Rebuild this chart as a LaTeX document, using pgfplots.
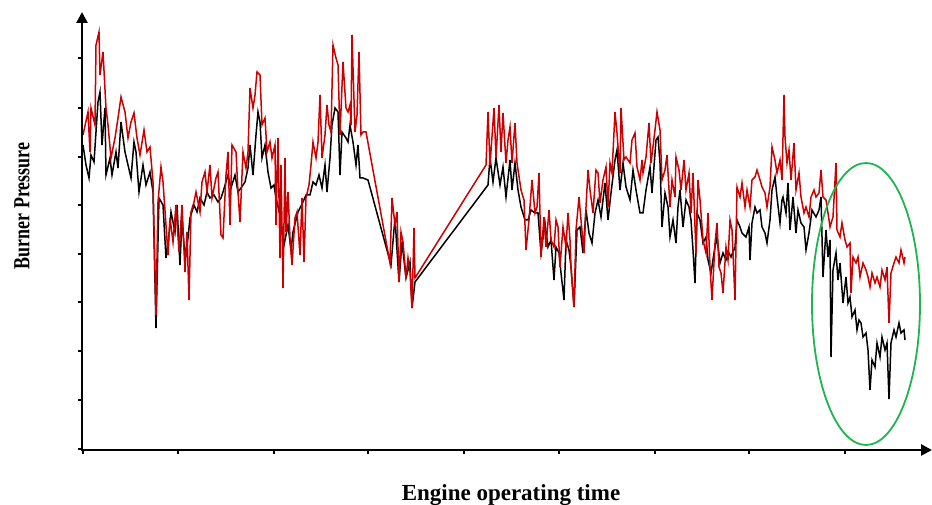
\documentclass[border=0pt]{standalone}
\usepackage{pgfplots}
\pgfplotsset{compat=1.18}
\usepackage{fontspec}
\setmainfont{Liberation Serif}
\usetikzlibrary{arrows.meta}
\definecolor{redline}{RGB}{204,0,0}
\definecolor{ellgreen}{RGB}{30,180,80}
\begin{document}
\begin{tikzpicture}
\begin{axis}[
  scale only axis,
  width=849pt, height=437pt,
  xmin=83, xmax=932, ymin=0, ymax=437,
  axis lines*=left,
  axis line style={draw=none},
  xtick={83,178,274,368,464,559,655,749,845},
  ytick={0,49,98,147,195,244,292,341,391},
  xticklabels={}, yticklabels={},
  tick align=outside,
  major tick length=5pt,
  tick style={black, line width=1.8pt},
  clip=false,
]
\addplot[black, line width=1.5pt] coordinates {
(83,304)(86,284)(89,271)(91,294)(94,287)(98,347)(100,357)(102,304)(105,341)(106,274)
(110,291)(112,274)(116,297)(118,281)(121,327)(125,297)(128,284)(131,271)(134,307)(136,297)
(139,257)(143,284)(146,264)(150,277)(153,257)(156,121)(159,251)(163,244)(166,191)(169,214)
(171,237)(175,217)(177,244)(180,184)(182,231)(185,191)(188,211)(190,231)(194,244)(197,237)
(200,251)(204,244)(207,257)(210,251)(214,254)(218,247)(221,251)(223,257)(228,274)(231,261)
(235,274)(238,257)(241,261)(245,267)(248,281)(250,304)(253,274)(256,314)(258,337)(260,327)
(262,291)(265,304)(268,277)(271,261)(274,264)(276,251)(280,234)(284,204)(288,224)(291,199)
(293,217)(298,237)(303,247)(306,254)(310,254)(313,267)(316,264)(319,274)(322,261)(325,284)
(327,257)(330,291)(332,324)(335,341)(338,337)(340,274)(342,317)(346,311)(348,307)(350,324)
(353,307)(356,284)(358,304)(360,271)(363,271)(368,269)(391,184)(395,231)(399,167)(402,207)
(406,171)(410,187)(412,141)(415,167)(488,264)(490,291)(493,267)(496,291)(500,264)(503,282)
(506,252)(510,289)(512,259)(515,286)(518,259)(521,242)(525,229)(528,229)(531,239)(535,236)
(538,236)(541,196)(545,226)(548,202)(551,209)(554,169)(556,202)(559,196)(561,176)(564,149)
(566,209)(569,199)(571,182)(574,142)(577,219)(580,222)(583,196)(586,239)(589,216)(592,206)
(595,236)(598,249)(601,232)(605,266)(608,229)(611,256)(615,289)(617,299)(620,259)(623,286)
(626,262)(630,249)(633,279)(636,259)(640,236)(643,236)(646,259)(650,282)(652,256)(656,309)
(658,312)(660,286)(662,222)(665,256)(668,242)(670,212)(673,229)(676,206)(678,242)(680,259)
(683,222)(686,249)(689,242)(691,229)(693,199)(695,166)(697,236)(700,229)(703,206)(706,212)
(708,189)(711,176)(714,196)(717,212)(720,186)(723,196)(726,189)(729,196)(731,192)(735,202)
(737,229)(740,222)(742,216)(746,212)(749,222)(750,189)(752,226)(755,242)(757,236)(760,239)
(762,222)(765,216)(767,206)(770,229)(772,259)(775,272)(777,252)(780,226)(782,249)(783,252)
(786,236)(788,266)(790,219)(793,252)(796,216)(798,239)(801,226)(804,222)(806,199)(809,216)
(812,239)(816,232)(819,239)(821,252)(823,172)(826,219)(828,192)(830,209)(831,92)(833,179)
(836,196)(838,169)(840,186)(843,146)(846,172)(848,146)(850,152)(852,132)(855,139)(857,119)
(859,129)(861,126)(863,112)(866,116)(868,99)(870,59)(872,89)(875,82)(877,106)(880,92)
(882,112)(885,99)(887,106)(889,50)(891,106)(894,119)(896,112)(899,126)(901,116)(904,119)
(905,109)
};
\addplot[redline, line width=1.5pt] coordinates {
(83,314)(88,337)(90,297)(91,341)(95,324)(96,404)(99,417)(100,374)(103,397)(106,341)
(108,324)(111,291)(115,311)(118,331)(121,352)(125,337)(128,311)(131,327)(134,336)(137,311)
(140,294)(144,319)(147,297)(150,302)(153,267)(156,134)(158,247)(161,282)(163,267)(166,224)
(168,194)(170,231)(173,207)(176,244)(179,197)(182,244)(185,177)(187,217)(189,149)(191,237)
(194,247)(196,257)(200,237)(202,267)(205,277)(207,257)(210,284)(212,251)(216,271)(218,277)
(221,214)(223,211)(226,274)(228,297)(230,224)(232,304)(236,297)(238,257)(240,227)(243,297)
(246,281)(248,297)(250,361)(253,341)(255,354)(257,377)(260,374)(262,324)(265,331)(267,297)
(270,307)(272,291)(275,304)(276,224)(278,311)(280,191)(281,284)(283,161)(285,291)(286,217)
(288,257)(290,211)(292,184)(295,231)(297,237)(300,194)(302,251)(304,187)(306,251)(309,264)
(311,284)(313,307)(316,291)(318,307)(320,354)(322,291)(325,314)(327,344)(329,324)(331,317)
(333,404)(336,391)(338,384)(340,314)(343,387)(346,341)(348,337)(350,344)(351,324)(352,414)
(355,317)(357,334)(359,397)(361,314)(363,317)(366,317)(390,186)(392,251)(395,224)(397,237)
(399,167)(401,217)(403,207)(406,171)(408,191)(410,177)(412,141)(414,221)(415,171)(486,284)
(488,337)(490,284)(494,341)(496,291)(499,344)(501,297)(503,336)(506,286)(508,309)(510,322)
(512,286)(515,326)(517,286)(521,259)(524,249)(526,199)(529,229)(532,269)(535,236)(537,242)
(539,276)(541,192)(544,232)(546,202)(549,239)(551,209)(554,202)(556,229)(558,222)(560,182)
(563,222)(566,202)(568,236)(570,209)(571,182)(574,142)(576,219)(579,252)(581,229)(584,196)
(586,242)(588,279)(590,259)(593,236)(596,279)(598,276)(600,246)(603,269)(606,282)(608,242)
(610,286)(612,276)(615,337)(617,316)(620,276)(621,341)(624,289)(626,292)(630,286)(632,309)
(635,316)(637,282)(640,269)(642,289)(643,276)(646,292)(649,326)(651,286)(655,319)(657,337)
(660,319)(662,269)(665,279)(667,294)(670,242)(672,269)(675,252)(676,292)(679,279)(681,259)
(684,289)(686,259)(689,276)(691,236)(693,276)(696,196)(698,269)(700,249)(703,209)(706,196)
(708,236)(710,182)(712,149)(715,206)(717,226)(719,182)(721,176)(723,156)(726,202)(728,189)
(730,229)(732,219)(735,149)(737,262)(740,252)(742,266)(745,242)(747,259)(750,242)(752,269)
(755,272)(757,279)(760,269)(762,262)(765,256)(767,242)(770,262)(772,302)(775,289)(777,276)
(780,289)(782,269)(784,354)(785,312)(787,286)(789,299)(791,269)(794,306)(796,259)(799,276)
(801,252)(804,236)(806,242)(809,232)(811,252)(814,259)(816,252)(819,256)(821,279)(823,252)
(826,249)(828,236)(830,222)(833,232)(836,286)(837,219)(840,212)(842,226)(845,209)(847,202)
(850,206)(851,156)(853,192)(856,186)(858,192)(860,172)(863,186)(866,179)(868,172)(870,162)
(872,176)(875,166)(877,172)(880,162)(882,179)(885,169)(887,182)(889,126)(891,176)(894,186)
(896,192)(899,186)(901,199)(904,186)(905,192)
};
\draw[line width=2.6pt, -{Triangle[length=11pt,width=11pt]}] (axis cs:83,-1) -- (axis cs:932,-1);
\draw[line width=2.6pt, -{Triangle[length=11pt,width=11pt]}] (axis cs:82,-2) -- (axis cs:82,437);
\draw[ellgreen, line width=1.8pt] (axis cs:866,145) ellipse [x radius=54, y radius=141];
\node[rotate=90, inner sep=0pt] at (axis cs:22,243) {\scalebox{0.78}[1]{\fontsize{23}{26}\selectfont\bfseries Burner Pressure}};
\node[inner sep=0pt] at (axis cs:511,-46) {\fontsize{23}{26}\selectfont\bfseries Engine operating time};
\coordinate (bbll) at (axis cs:0,-56);
\coordinate (bbur) at (axis cs:932,449);
\end{axis}
\pgfresetboundingbox
\useasboundingbox (bbll) rectangle (bbur);
\end{tikzpicture}
\end{document}
